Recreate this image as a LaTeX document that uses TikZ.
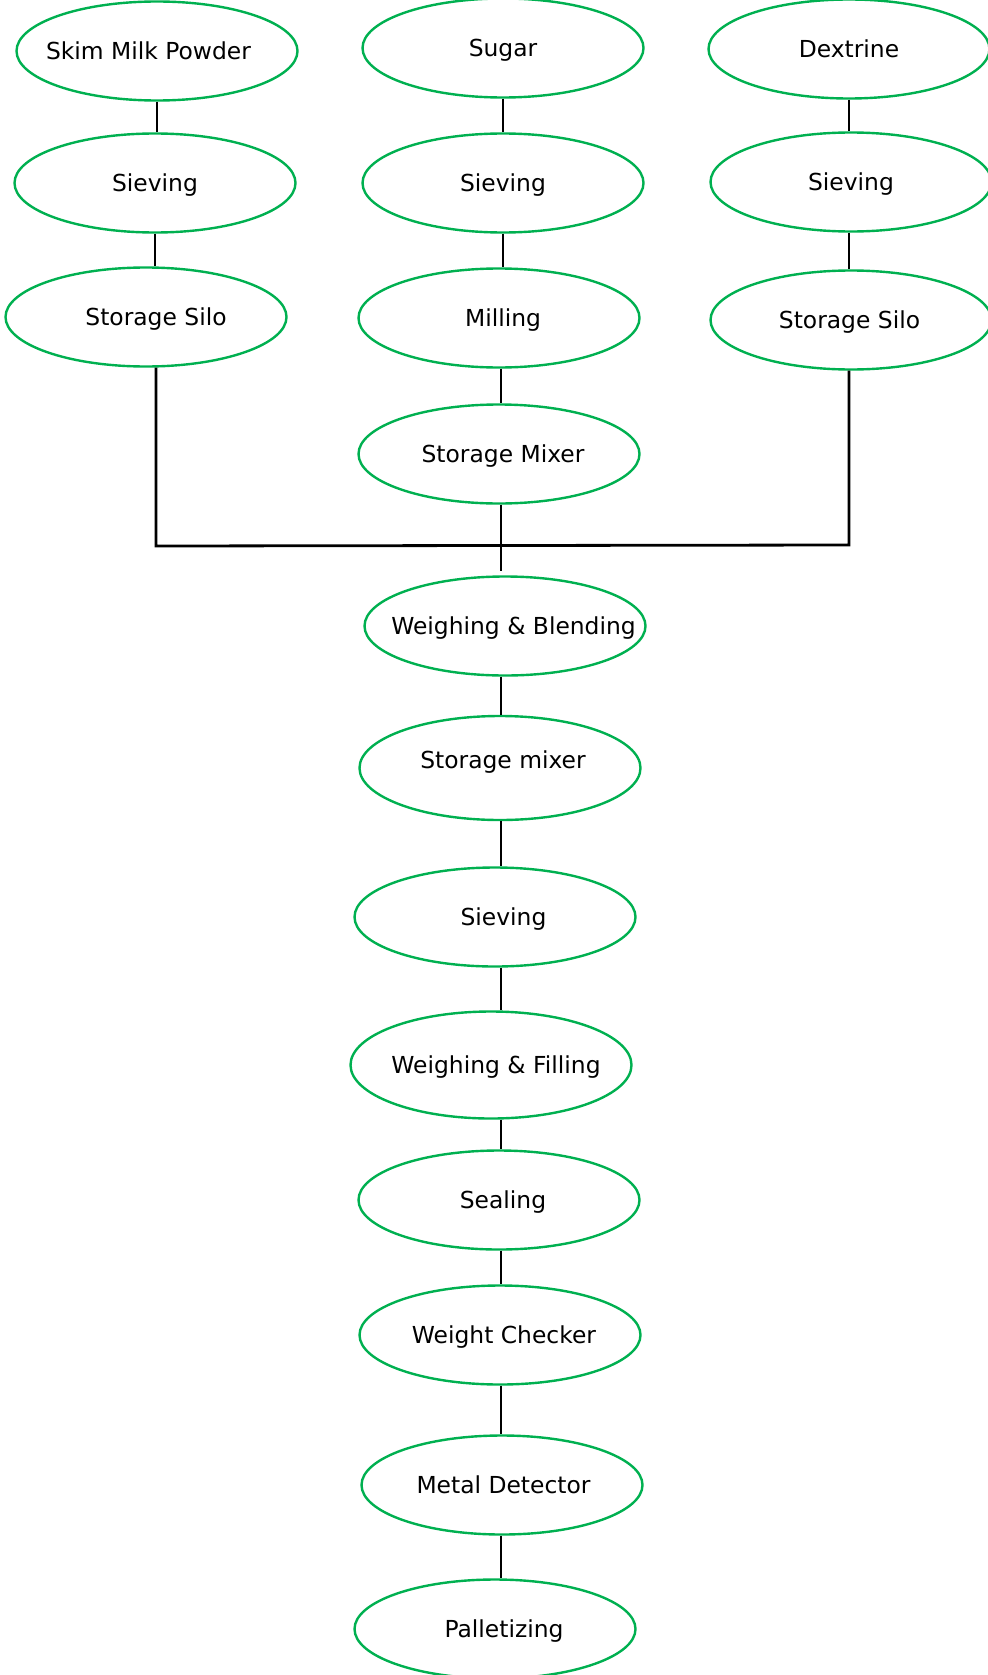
\documentclass[tikz,border=0pt]{standalone}
\usepackage{fontspec}
\setmainfont{DejaVu Sans}
\usetikzlibrary{shapes.geometric}
\definecolor{procgreen}{HTML}{00B050}
\newcommand\txR[2]{\makebox[0pt][c]{\smash{\raisebox{-4.3pt}{\hspace*{#1pt}#2}}}}
\newcommand\txL[2]{\makebox[0pt][c]{\smash{\raisebox{-4.3pt}{#2\hspace*{#1pt}}}}}
\begin{document}
\begin{tikzpicture}[x=0.5pt,y=-0.5pt,
  proc/.style={ellipse, draw=procgreen, line width=1.2pt, minimum width=140.5pt,
    minimum height=49.5pt, inner sep=0pt, font=\fontsize{11.7}{14}\selectfont},
  link/.style={draw=black, line width=1.4pt},
  thinlink/.style={draw=black, line width=1pt}]
\useasboundingbox (0,0) rectangle (987,1675);
% top row
\node[proc] (skim)  at (157,51)  {\txL{8.5}{Skim Milk Powder}};
\node[proc] (sugar) at (503,48)  {\txR{0}{Sugar}};
\node[proc] (dex)   at (849,49)  {\txR{0}{Dextrine}};
% second row
\node[proc] (sieveL) at (155,183) {\txR{0}{Sieving}};
\node[proc] (sieveM) at (503,183) {\txR{0}{Sieving}};
\node[proc] (sieveR) at (851,182) {\txR{0}{Sieving}};
% third row
\node[proc] (siloL)  at (146,317) {\txR{10}{Storage Silo}};
\node[proc] (mill)   at (499,318) {\txR{4}{Milling}};
\node[proc] (siloR)  at (851,320) {\txL{1.5}{Storage Silo}};
% middle chain
\node[proc] (smix)   at (499,454) {\txR{4}{Storage Mixer}};
\node[proc] (wb)     at (505,626) {\txR{8.5}{Weighing \& Blending}};
\node[proc, minimum height=52pt] (smix2) at (500,768) {\txR{3}{\raisebox{4.25pt}{Storage mixer}}};
\node[proc] (sieve)  at (495,917) {\txR{8.5}{Sieving}};
\node[proc, minimum height=53.5pt] (wf) at (491,1065) {\txR{5}{Weighing \& Filling}};
\node[proc] (seal)   at (499,1200) {\txR{4}{Sealing}};
\node[proc] (wc)     at (500,1335) {\txR{4}{Weight Checker}};
\node[proc] (md)     at (502,1485) {\txR{1.5}{Metal Detector}};
\node[proc] (pal)    at (495,1629) {\txR{9}{Palletizing}};
% junction coordinates
\coordinate (jl) at (156,546);
\coordinate (jr) at (849,545);
\coordinate (jm) at (501,571);
\coordinate (axis) at (501,0);
% column links
\draw[link] (skim.south) -- (skim.south |- sieveL.north);
\draw[link] (sieveL.south) -- (sieveL.south |- siloL.north);
\draw[link] (sugar.south) -- (sugar.south |- sieveM.north);
\draw[link] (sieveM.south) -- (sieveM.south |- mill.north);
\draw[link] (mill.south -| axis) -- (smix.north -| axis);
\draw[link] (dex.south) -- (dex.south |- sieveR.north);
\draw[link] (sieveR.south -| dex.south) -- (siloR.north -| dex.south);
% merge
\draw[link] (siloL.south -| jl) -- (jl) -- (jr) -- (siloR.south -| jr);
\draw[thinlink] (smix.south -| jm) -- (jm);
% lower chain
\draw[thinlink] (wb.south -| axis) -- (smix2.north -| axis);
\draw[thinlink] (smix2.south -| axis) -- (sieve.north -| axis);
\draw[thinlink] (sieve.south -| axis) -- (wf.north -| axis);
\draw[link] (wf.south -| axis) -- (seal.north -| axis);
\draw[link] (seal.south -| axis) -- (wc.north -| axis);
\draw[thinlink] (wc.south -| axis) -- (md.north -| axis);
\draw[thinlink] (md.south -| axis) -- (pal.north -| axis);
\end{tikzpicture}
\end{document}
